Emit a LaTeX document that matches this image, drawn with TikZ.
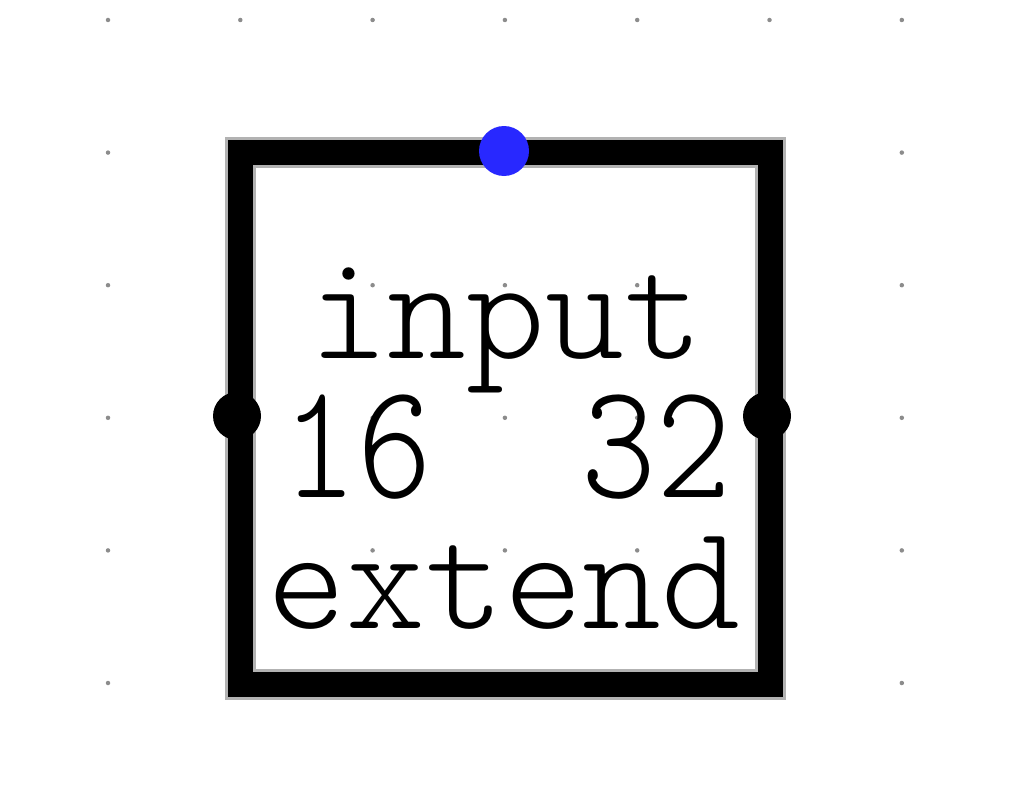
\documentclass[tikz,border=0pt]{standalone}
\usepackage{fontspec}
\setmonofont{Latin Modern Mono Light}
\definecolor{pinblue}{RGB}{40,40,255}
\tikzset{
  griddot/.style={circle,fill=black!45,inner sep=0pt,minimum size=4.5pt},
  boxhalo/.style={draw=black!30,line width=31pt},
  boxline/.style={draw=black,line width=25pt},
  pin/.style={circle,fill=black,inner sep=0pt,minimum size=48pt},
  bluepin/.style={circle,fill=pinblue,inner sep=0pt,minimum size=50pt},
  lbl/.style={inner sep=0pt,anchor=base,font=\ttfamily\fontsize{150}{150}\selectfont}
}
\begin{document}
\begin{tikzpicture}[x=1pt,y=-1pt]
\useasboundingbox (0,0) rectangle (1024,789);
\foreach \i in {0,...,6}{
  \foreach \j in {0,...,5}{
    \node[griddot] (g\i\j) at ({108+132.3*\i},{20+132.6*\j}) {};
  }
}
\coordinate (tl) at (240,152);
\coordinate (br) at (770,684);
\draw[boxhalo] (tl) rectangle (br);
\draw[boxline] (tl) rectangle (br);
\node[bluepin] (top) at (504,151) {};
\node[pin] (west) at (237,416) {};
\node[pin] (east) at (767,416) {};
\node[lbl] (l1) at (506,358) {input};
\node[lbl] (l2) at (507,497) {\scalebox{0.95}[1.1]{16\ \ 32}};
\node[lbl] (l3) at (504,628) {extend};
\end{tikzpicture}
\end{document}
